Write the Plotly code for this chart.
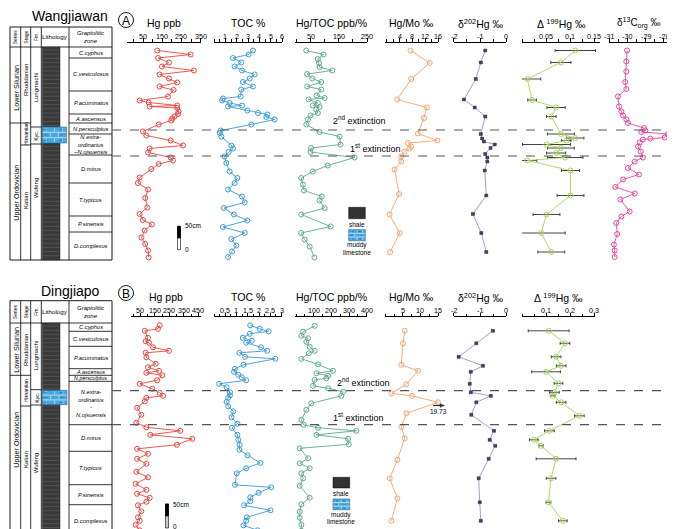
import plotly.graph_objects as go

W, H = 675, 529
FONT = "Liberation Sans, Arial, sans-serif"

# ================= DATA =================
# Heights are in cm above the base of each section.
# ---- Wangjiawan (A) ----
wj_hg_h = [419,411,404,395,387,379,371,363,355,347,340,327,319,315,309,307,304,297,292,287,
           283,279,271,257,249,239,229,223,215,205,199,192,182,165,154,141,124,105,92,80,
           71,59,45,32,19,5]
wj_hg = [124,298,128,185,148,315,136,185,228,136,209,180,32,79,228,84,228,235,232,214,
         202,197,131,49,67,194,258,84,76,194,206,131,93,32,23,76,61,72,32,49,
         96,58,41,61,76,79]

wj_toc_h = [419,411,404,395,387,379,371,363,356,347,341,327,323,319,314,309,307,299,294,291,
            286,281,271,259,254,247,229,223,216,207,194,177,164,154,141,127,115,104,91,79,
            66,54,42,29,17,6]
wj_toc = [3.44,3.06,1.68,2.41,1.82,2.47,3.59,3.15,2.56,3.44,2.41,2.35,0.79,0.71,1.38,2.47,1.24,2.94,3.88,4.71,
          4.62,5.35,3.29,0.59,0.50,0.65,1.53,1.68,1.29,0.94,1.09,1.38,2.06,1.82,1.24,2.47,2.71,0.88,1.76,2.94,
          0.79,2.71,1.53,1.97,1.59,1.24]

wj_hgtoc_h = [419,411,402,394,386,379,372,363,356,347,341,329,324,321,314,309,306,301,294,289,
              281,271,256,247,231,224,216,205,189,177,164,151,139,127,119,104,91,67,54,41,27,5]
wj_hgtoc = [35,96,76,80,82,127,38,56,88,38,88,72,100,43,76,58,82,70,76,50,
            41,35,82,153,156,52,50,206,111,58,17,23,27,90,82,100,17,121,17,29,47,64]

wj_hgmo_h = [419,394,362,321,305,284,253,239,234,227,223,217,207,197,181,132,91,54,16]
wj_hgmo = [7.4,13.4,7.6,3.2,12.5,11.6,9.7,15.8,6.6,7.6,7.1,5.5,4.5,4.5,2.4,3.8,0.8,4.0,1.0]

wj_d202_h = [419,395,362,321,305,287,252,243,237,231,224,212,205,197,179,129,92,54,16]
wj_d202 = [-0.80,-0.97,-1.16,-1.61,-1.20,-0.80,-0.97,-0.92,-0.85,-0.44,-0.60,-0.80,-0.72,-0.72,-0.82,-0.76,-1.27,-0.95,-0.76]

wj_D199_h = [419,395,362,320,305,287,252,244,239,231,224,214,205,199,179,129,91,54,16]
wj_D199 = [0.111,0.081,0.011,0.021,0.071,0.061,0.081,0.111,0.092,0.051,0.081,0.071,0.090,0.011,0.101,0.101,0.051,0.040,0.061]
wj_D199_err = [0.042,0.021,0.028,0.009,0.019,0.010,0.028,0.018,0.010,0.050,0.028,0.020,0.037,0.020,0.019,0.028,0.028,0.050,0.028]

wj_d13c_h = [419,397,377,356,342,327,307,297,289,281,274,264,259,256,252,245,243,241,235,227,
             217,205,197,184,171,161,146,133,121,97,87,74,52,31,19,6]
wj_d13c = [-30.01,-30.05,-30.05,-30.11,-30.05,-30.51,-30.45,-30.32,-30.23,-30.05,-29.96,-29.08,-29.01,-29.23,-27.77,-27.95,-28.74,-29.14,-29.32,-29.41,
           -29.26,-29.14,-29.59,-29.96,-29.36,-30.23,-30.65,-29.59,-30.38,-29.87,-30.32,-30.60,-30.55,-30.73,-30.69,-30.69]

# ---- Dingjiapo (B) ----
dj_hg_h = [422,415,411,397,390,387,378,371,367,358,345,338,331,327,322,312,305,295,287,281,
           277,270,257,243,227,218,211,203,195,183,175,165,155,145,129,118,105,93,85,77,
           69,62,50,38,31,23,12]
dj_hg = [184,172,81,103,87,110,138,248,87,92,156,103,179,92,202,166,46,133,184,207,
         92,81,28,57,23,92,326,119,409,303,28,103,28,92,23,103,18,92,28,115,
         92,34,57,34,46,18,46]

dj_toc_h = [422,415,410,405,397,391,387,378,371,367,359,355,343,335,329,323,318,312,305,298,
            288,282,277,269,260,250,238,225,217,203,193,183,173,162,147,136,126,103,98,87,
            78,70,62,52,38,31,22,12]
dj_toc = [1.61,2.03,2.43,1.59,1.28,1.68,1.43,2.09,2.36,1.13,1.38,2.73,1.31,0.93,0.89,1.08,1.23,1.43,0.23,0.56,
          0.71,0.71,0.63,0.56,0.63,0.86,0.78,1.04,0.80,1.04,1.08,1.14,1.13,1.49,2.06,1.43,1.01,0.93,2.54,1.98,
          1.61,1.61,1.34,2.51,1.46,1.43,1.31,1.94]

dj_hgtoc_h = [421,409,401,396,389,379,371,366,355,344,331,326,321,316,313,301,296,289,281,266,
              253,233,223,217,211,203,195,184,176,156,146,136,126,116,101,77,64,49,37,23,11]
dj_hgtoc = [105,40,30,68,58,77,105,72,30,124,209,115,181,171,105,96,181,266,256,86,
            58,30,43,124,341,115,294,298,21,68,21,77,30,40,21,77,30,21,21,30,30]

dj_hgmo_h = [411,386,343,331,304,286,281,268,246,219,196,153,116,76,31]
dj_hgmo = [5.5,5.0,4.5,9.3,5.9,1.7,7.6,19.73,6.0,4.5,5.5,3.4,1.2,3.4,1.7]

dj_d202_h = [411,386,359,341,329,305,288,281,268,243,211,193,181,155,116,68,31]
dj_d202 = [-0.51,-1.14,-1.81,-0.89,-1.35,-1.39,-1.35,-0.59,-1.14,-1.33,-0.47,-0.63,-0.42,-0.67,-1.05,-1.01,-0.97]

dj_D199_h = [411,386,359,341,329,306,288,281,268,241,211,193,181,155,116,68,31]
dj_D199 = [0.111,0.179,0.142,0.163,0.100,0.152,0.135,0.128,0.163,0.239,0.114,0.049,0.079,0.142,0.121,0.110,0.170]
dj_D199_err = [0.085,0.020,0.020,0.020,0.060,0.018,0.020,0.010,0.020,0.020,0.020,0.018,0.010,0.083,0.020,0.010,0.018]

zones_wj = ["C.cyphus", "C.vesiculosus", "P.acuminatus", "A.ascensus", "N.persculptus",
            "N.extra-<br>ordinarius<br>~N.ojsuensis", "D.mirus", "T.typicus", "P.sinensis", "D.complexus"]
zones_dj = ["C.cyphus", "C.vesiculosus", "P.acuminatus", "A.ascensus", "N.persculptus",
            "N.extra-<br>ordinarius<br>-<br>N.ojsuensis", "D.mirus", "T.typicus", "P.sinensis", "D.complexus"]
series_names = ["Lower Silurian", "Upper Ordovician"]
stage_names = ["Rhuddanian", "Hirnantian", "Katian"]
fm_names = ["Lungmachi", "Kyc.", "Wufeng"]

# ================= HELPERS =================
def px(x):
    return x / W

def py(y):
    return 1 - y / H

shapes = []
annotations = []

def rect(x0, y0, x1, y1, fill="rgba(0,0,0,0)", lc="black", lw=0.8):
    shapes.append(dict(type="rect", xref="paper", yref="paper", x0=px(x0), x1=px(x1),
                       y0=py(y1), y1=py(y0), fillcolor=fill, line=dict(color=lc, width=lw), layer="above"))

def line(x0, y0, x1, y1, lc="black", lw=0.8, dash="solid"):
    shapes.append(dict(type="line", xref="paper", yref="paper", x0=px(x0), x1=px(x1),
                       y0=py(y0), y1=py(y1), line=dict(color=lc, width=lw, dash=dash), layer="above"))

def text(x, y, t, size=7, angle=0, italic=False, color="black", xanchor="center", yanchor="middle"):
    annotations.append(dict(x=px(x), y=py(y), xref="paper", yref="paper", text=t, showarrow=False,
                            textangle=angle, xanchor=xanchor, yanchor=yanchor,
                            font=dict(family=FONT, size=size, color=color,
                                      style="italic" if italic else "normal")))

def limestone(x0, y0, x1, y1):
    rect(x0, y0, x1, y1, fill="#45a8de", lc="#1f6e9c", lw=0.6)
    n = 3
    hh = (y1 - y0) / n
    for i in range(1, n):
        line(x0, y0 + i * hh, x1, y0 + i * hh, lc="#e8f4fb", lw=0.7)
    bw = (x1 - x0) / 3
    for i in range(n):
        off = 0 if i % 2 == 0 else bw / 2
        xx = x0 + off + bw * 0.5
        while xx < x1 - 1:
            line(xx, y0 + i * hh + 0.8, xx, y0 + (i + 1) * hh - 0.8, lc="#e8f4fb", lw=0.6)
            xx += bw
    for i in range(n):
        yc = y0 + (i + 0.5) * hh
        line(x0 + 2, yc, x0 + 5, yc, lc="#1f5f88", lw=0.6)
        line(x1 - 7, yc, x1 - 4, yc, lc="#1f5f88", lw=0.6)

def shale(x0, y0, x1, y1, skip=None):
    rect(x0, y0, x1, y1, fill="#3a3a3a", lc="#2a2a2a", lw=0.5)
    yy = y0 + 3
    while yy < y1 - 1:
        if not (skip and skip[0] - 1 <= yy <= skip[1] + 1):
            line(x0 + 0.5, yy, x1 - 0.5, yy, lc="#6a6a6a", lw=0.5)
        yy += 4.2

COLS = [2, 12.7, 22.7, 33.3, 61, 104]

def table(y_top, y_hb, y_bot, ser, ser_txt, stg, stg_txt, fms, fm_txt, zb, znames, lime, lime_x1):
    rect(COLS[0], y_top, COLS[5], y_bot, lw=0.9)
    for c in COLS[1:5]:
        line(c, y_top, c, y_bot)
    line(COLS[0], y_hb, COLS[5], y_hb)
    hy = (y_top + y_hb) / 2
    text((COLS[0] + COLS[1]) / 2, hy, "Series", 5, -90)
    text((COLS[1] + COLS[2]) / 2, hy, "Stage", 5, -90)
    text((COLS[2] + COLS[3]) / 2, hy, "Fm.", 5, -90)
    text((COLS[3] + COLS[4]) / 2, hy, "Lithology", 6.2)
    text((COLS[4] + COLS[5]) / 2, hy, "Graptolitic<br>zone", 6, italic=True)
    for b in ser[1:-1]:
        line(COLS[0], b, COLS[1], b)
    for t, yc in zip(series_names, ser_txt):
        text((COLS[0] + COLS[1]) / 2 + 0.3, yc, t, 7.2, -90)
    for b in stg[1:-1]:
        line(COLS[1], b, COLS[2] + 0.0, b)
    for t, yc, fs in zip(stage_names, stg_txt, [6, 5, 6]):
        text((COLS[1] + COLS[2]) / 2 + 0.3, yc, t, fs, -90)
    for b in fms[1:-1]:
        line(COLS[2], b, COLS[3], b)
    for t, yc, fs in zip(fm_names, fm_txt, [6, 5.2, 6]):
        text((COLS[2] + COLS[3]) / 2 + 0.3, yc, t, fs, -90)
    shale(COLS[3] + 1, y_hb, 52, y_bot, skip=lime)
    limestone(COLS[3] + 1, lime[0], lime_x1, lime[1])
    for b in zb[1:-1]:
        line(COLS[4], b, COLS[5], b)
    for i, t in enumerate(znames):
        ya, yb = zb[i], zb[i + 1]
        fs = 5.8 if (yb - ya) > 8 else 5.4
        text((COLS[4] + COLS[5]) / 2, (ya + yb) / 2, t, fs, italic=True)

table(19, 39, 252,
      [39, 115, 252], [80, 185],
      [39, 115, 137, 252], [72, 126, 193],
      [39, 119, 136, 252], [80, 127.5, 180],
      [39, 50, 83, 106, 115, 126, 147, 175, 208, 224, 252], zones_wj,
      (119, 135), 58.5)
table(292.7, 315, 528.3,
      [315, 367.3, 528.3], [342, 432],
      [315, 367.3, 398, 528.3], [342, 383, 452],
      [315, 381.7, 397, 528.3], [348, 389.5, 455],
      [315, 323.3, 338.3, 360.7, 367.3, 373.3, 416.7, 443.3, 476.7, 496.7, 528.3], zones_dj,
      (382.3, 396.7), 59)

text(62, 8, "Wangjiawan", 14)
text(62, 283, "Dingjiapo", 14)
for (cx, cy, t) in [(118, 12, "A"), (118, 285, "B")]:
    shapes.append(dict(type="circle", xref="paper", yref="paper", x0=px(cx - 7.5), x1=px(cx + 7.5),
                       y0=py(cy + 7.5), y1=py(cy - 7.5), line=dict(color="black", width=0.9)))
    text(cx, cy + 0.5, t, 12)

for yy in [122, 148, 382.7, 416.7]:
    line(104, yy, 675, yy, lc="#555555", lw=1.2, dash="dash")
text(352, 112, "2<sup>nd</sup> extinction", 9)
text(367, 140, "1<sup>st</sup> extinction", 9)
text(355, 374, "2<sup>nd</sup> extinction", 9)
text(350, 409, "1<sup>st</sup> extinction", 9)

rect(169.5, 218.3, 172.5, 241.7, fill="white", lw=0.6)
rect(169.5, 218.3, 172.5, 230, fill="black", lw=0.6)
text(175, 217.5, "50cm", 6.5, xanchor="left")
text(174.5, 241.5, "0", 6.5, xanchor="left")
rect(157.5, 496, 160.5, 520, fill="#cccccc", lw=0.6)
rect(157.5, 496, 160.5, 508, fill="black", lw=0.6)
text(163, 496, "50cm", 6.5, xanchor="left")
text(162.5, 518.5, "0", 6.5, xanchor="left")

rect(340.7, 199.3, 357.3, 210.7, fill="#333333", lw=0.5)
text(349, 216, "shale", 6.5)
limestone(340.7, 221.7, 357.3, 232.7)
text(349, 237.5, "muddy", 6.5)
text(349, 244.5, "limestone", 6.5)
rect(325, 469.3, 341.7, 480, fill="#333333", lw=0.5)
text(333.3, 485.5, "shale", 6.5)
limestone(325, 491, 341.7, 501.7)
text(333.3, 507, "muddy", 6.5)
text(333.3, 513.5, "limestone", 6.5)

# ================= AXES & TRACES =================
RED, BLUE, GREEN, ORANGE = "#e5473f", "#3a9ad6", "#5caa88", "#f4a46f"
PURPLE, LIME, PINK = "#a58fc2", "#a9d25e", "#e8469b"

top_axis_y, bot_axis_y = 33.5, 308
top_label_y, bot_label_y = 28.5, 302.5
top_title_y, bot_title_y = 15, 289
# (key, title, x0px, x1px, range, tickvals, minor dtick, panel, title centre px)
axes = [
    ("x",   "Hg ppb",                       119, 193, [-34, 352], [50, 150, 250, 350], 50, "top", None),
    ("x2",  "TOC %",                        206, 274, [0, 6], [1, 2, 3, 4, 5, 6], 0.5, "top", None),
    ("x3",  "Hg/TOC ppb/%",                 287, 359, [-5, 250], [50, 150, 250], 50, "top", None),
    ("x4",  "Hg/Mo ‰",                      377, 430, [-0.6, 16], [4, 8, 12, 16], 2, "top", None),
    ("x5",  "δ<sup>202</sup>Hg ‰",          445.7, 498.3, [-2, 0], [-2, -1, 0], 0.5, "top", None),
    ("x6",  "Δ <sup>199</sup>Hg ‰",         514, 592, [0, 0.1625], [0.05, 0.1, 0.15], 0.025, "top", None),
    ("x7",  "δ<sup>13</sup>C<sub>org</sub> ‰", 601, 674, [-31, -27], [-31, -30, -29, -28, -27], 0.5, "top", 631),
    ("x8",  "Hg ppb",                       123.3, 193.3, [-12, 471], [50, 150, 250, 350, 450], 50, "bot", None),
    ("x9",  "TOC %",                        206, 273.5, [0, 3], [0.5, 1, 1.5, 2, 2.5, 3], 0.25, "bot", None),
    ("x10", "Hg/TOC ppb/%",                 287, 359, [-6, 401], [100, 200, 300, 400], 50, "bot", None),
    ("x11", "Hg/Mo ‰",                      377, 430, [-0.14, 15], [5, 10, 15], 2.5, "bot", None),
    ("x12", "δ<sup>202</sup>Hg ‰",          445.7, 498.3, [-2, 0], [-2, -1, 0], 0.5, "bot", None),
    ("x13", "Δ <sup>199</sup>Hg ‰",         514, 587, [0, 0.304], [0.1, 0.2, 0.3], 0.05, "bot", None),
]

layout = dict(width=W, height=H, margin=dict(l=0, r=0, t=0, b=0), autosize=False,
              paper_bgcolor="white", plot_bgcolor="white", showlegend=False,
              font=dict(family=FONT, color="black"))

for key, title, a, b, rng, tv, mdt, panel, tc in axes:
    axname = "xaxis" if key == "x" else "xaxis" + key[1:]
    ay = top_axis_y if panel == "top" else bot_axis_y
    layout[axname] = dict(
        domain=[px(a), px(b)], range=rng, anchor="free", position=py(ay), side="top",
        showline=True, linecolor="black", linewidth=0.9, ticks="outside", ticklen=3.5,
        tickwidth=0.8, tickcolor="black", tickmode="array", tickvals=tv,
        showticklabels=False, showgrid=False, zeroline=False, fixedrange=True,
        minor=dict(dtick=mdt, tick0=0, ticks="outside", ticklen=2.5, tickcolor="black",
                   tickwidth=0.7, showgrid=False),
    )
    ly = top_label_y if panel == "top" else bot_label_y
    for v in tv:
        xx = a + (v - rng[0]) / (rng[1] - rng[0]) * (b - a)
        if xx > W - 7:
            text(W - 0.5, ly, "%g" % v, 7.2, xanchor="right")
        else:
            text(xx, ly, "%g" % v, 7.2)
    tcx = tc if tc is not None else (a + b) / 2
    text(tcx, top_title_y if panel == "top" else bot_title_y, title, 10.5 if tc is None else 10)

layout["yaxis"] = dict(domain=[py(252), py(39)], range=[0, 426], visible=False, fixedrange=True)
layout["yaxis2"] = dict(domain=[py(528.3), py(315.3)], range=[0, 426], visible=False, fixedrange=True)

fig = go.Figure()

def series(xv, yv, key, yk, color, err=None, dark=False):
    mk = dict(symbol="circle-open", size=5, color=color, line=dict(width=1, color=color))
    if dark:
        mk = dict(symbol="square", size=3, color="#4b3d5e", line=dict(width=0.5, color="#4b3d5e"))
    tr = go.Scatter(x=xv, y=yv, xaxis=key, yaxis=yk, mode="lines+markers",
                    line=dict(color=color, width=0.9), marker=mk, cliponaxis=False, hoverinfo="skip")
    if err is not None:
        tr.error_x = dict(type="data", array=err, visible=True, color="#444444", thickness=1, width=1.5)
    fig.add_trace(tr)

series(wj_hg, wj_hg_h, "x", "y", RED)
series(wj_toc, wj_toc_h, "x2", "y", BLUE)
series(wj_hgtoc, wj_hgtoc_h, "x3", "y", GREEN)
series(wj_hgmo, wj_hgmo_h, "x4", "y", ORANGE)
series(wj_d202, wj_d202_h, "x5", "y", PURPLE, err=[0.04] * len(wj_d202), dark=True)
series(wj_D199, wj_D199_h, "x6", "y", LIME, err=wj_D199_err)
series(wj_d13c, wj_d13c_h, "x7", "y", PINK)

series(dj_hg, dj_hg_h, "x8", "y2", RED)
series(dj_toc, dj_toc_h, "x9", "y2", BLUE)
series(dj_hgtoc, dj_hgtoc_h, "x10", "y2", GREEN)
hgmo_max = 15
series([min(v, hgmo_max) for v in dj_hgmo], dj_hgmo_h, "x11", "y2", ORANGE)
series(dj_d202, dj_d202_h, "x12", "y2", PURPLE, err=[0.04] * len(dj_d202), dark=True)
series(dj_D199, dj_D199_h, "x13", "y2", LIME, err=dj_D199_err)

# off-scale Hg/Mo value: arrow + value label
big = max(dj_hgmo)
line(425, 397.5, 433, 397.5, lc="#333333", lw=1.2)
shapes.append(dict(type="path", xref="paper", yref="paper",
                   path="M %f %f L %f %f L %f %f Z" % (px(432), py(395.7), px(436.5), py(397.5), px(432), py(399.3)),
                   fillcolor="#333333", line=dict(color="#333333", width=0.5)))
text(430.5, 403, "%.2f" % big, 6.5)

layout["shapes"] = shapes
layout["annotations"] = annotations
fig.update_layout(**layout)
fig.write_html("out.html")
